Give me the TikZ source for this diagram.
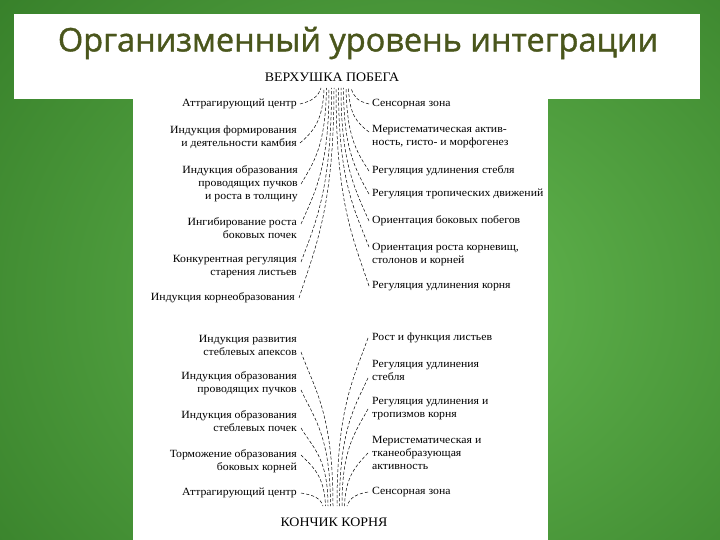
\documentclass[tikz,border=0pt]{standalone}
\usepackage{fontspec}
\setmainfont{Liberation Serif}[FakeStretch=1.07]
\newfontfamily\titlefont{Open Sans}[FakeBold=1.2]
\definecolor{bgin}{RGB}{100,184,80}
\definecolor{bgout}{RGB}{20,84,12}
\definecolor{titlecol}{RGB}{74,86,28}
\begin{document}
\begin{tikzpicture}[x=1pt,y=-1pt,
  lab/.style={font=\fontsize{11}{13}\selectfont, inner sep=1pt},
  labl/.style={lab, anchor=east, align=right},
  labr/.style={lab, anchor=west, align=left},
  head/.style={font=\fontsize{13}{15}\selectfont, inner sep=1pt},
  titlestyle/.style={font=\titlefont\fontsize{32.5}{40}\selectfont, text=titlecol, inner sep=0pt},
  conn/.style={draw=black, line width=0.5pt, dash pattern=on 3.2pt off 2pt}]
\useasboundingbox (0,0) rectangle (720,540);
\begin{scope}
\clip (0,0) rectangle (720,540);
\shade[inner color=bgin, outer color=bgout] (-580,-540) rectangle (1420,1140);
\end{scope}
\fill[white] (14,14) rectangle (700,99);
\fill[white] (133,98) rectangle (548,540);
\node[titlestyle] (title) at (358,43) {Организменный уровень интеграции};

\node[head] (top) at (332,77) {ВЕРХУШКА ПОБЕГА};
\node[head] (bot) at (334,522) {КОНЧИК КОРНЯ};

% top left
\node[labl] (la1) at (298,104) {Аттрагирующий центр};
\node[labl] (la2) at (298,137) {Индукция формирования\\и деятельности камбия};
\node[labl] (la3) at (299,184) {Индукция образования\\проводящих пучков\\и роста в толщину};
\node[labl] (la4) at (298,228) {Ингибирование роста\\боковых почек};
\node[labl] (la5) at (298,267) {Конкурентная регуляция\\старения листьев};
\node[labl] (la6) at (296,298) {Индукция корнеобразования};
% top right
\node[labr] (ra1) at (371,104) {Сенсорная зона};
\node[labr] (ra2) at (371,137) {Меристематическая актив-\\ность, гисто- и морфогенез};
\node[labr] (ra3) at (371,171) {Регуляция удлинения стебля};
\node[labr] (ra4) at (371,194) {Регуляция тропических движений};
\node[labr] (ra5) at (371,221) {Ориентация боковых побегов};
\node[labr] (ra6) at (371,255) {Ориентация роста корневищ,\\столонов и корней};
\node[labr] (ra7) at (371,286) {Регуляция удлинения корня};
% bottom left
\node[labl] (lb1) at (298,345) {Индукция развития\\стеблевых апексов};
\node[labl] (lb2) at (298,383) {Индукция образования\\проводящих пучков};
\node[labl] (lb3) at (298,421) {Индукция образования\\стеблевых почек};
\node[labl] (lb4) at (298,461) {Торможение образования\\боковых корней};
\node[labl] (lb5) at (298,493) {Аттрагирующий центр};
% bottom right
\node[labr] (rb1) at (371,338) {Рост и функция листьев};
\node[labr] (rb2) at (371,370) {Регуляция удлинения\\стебля};
\node[labr] (rb3) at (371,409) {Регуляция удлинения и\\тропизмов корня};
\node[labr] (rb4) at (371,453) {Меристематическая и\\тканеобразующая\\активность};
\node[labr] (rb5) at (371,492) {Сенсорная зона};

% apex points
\foreach \i/\x in {1/321,2/324,3/326.5,4/329,5/331.5,6/334}
  \coordinate (ta\i) at (\x,88);
\foreach \i/\x in {1/351,2/348.5,3/346,4/343.5,5/341,6/338.5,7/336}
  \coordinate (tb\i) at (\x,88);
\foreach \i/\x in {1/333,2/330.5,3/328,4/325.5,5/323}
  \coordinate (ba\i) at (\x,506);
\foreach \i/\x in {1/337,2/339.5,3/342,4/344.5,5/347}
  \coordinate (bb\i) at (\x,506);

% top left connectors
\draw[conn] ([xshift=2pt]la1.east) .. controls +(12,-3) and +(-3,9) .. (ta1);
\draw[conn] ([xshift=2pt,yshift=-6pt]la2.east) .. controls +(14,-12) and +(-1,32) .. (ta2);
\draw[conn] ([xshift=2pt]la3.east) .. controls +(13,-22) and +(-1,58) .. (ta3);
\draw[conn] ([xshift=3pt,yshift=4pt]la4.east) .. controls +(14,-32) and +(0,80) .. (ta4);
\draw[conn] ([xshift=3pt,yshift=5pt]la5.east) .. controls +(15,-40) and +(0,100) .. (ta5);
\draw[conn] ([xshift=3pt]la6.east) .. controls +(16,-50) and +(0,120) .. (ta6);
% top right connectors
\draw[conn] ([xshift=-2pt]ra1.west) .. controls +(-12,-3) and +(3,9) .. (tb1);
\draw[conn] ([xshift=-2pt,yshift=5pt]ra2.west) .. controls +(-13,-10) and +(1,26) .. (tb2);
\draw[conn] ([xshift=-2pt]ra3.west) .. controls +(-13,-20) and +(1,48) .. (tb3);
\draw[conn] ([xshift=-2pt]ra4.west) .. controls +(-14,-25) and +(0,60) .. (tb4);
\draw[conn] ([xshift=-2pt]ra5.west) .. controls +(-14,-32) and +(0,76) .. (tb5);
\draw[conn] ([xshift=-2pt,yshift=8pt]ra6.west) .. controls +(-15,-38) and +(0,92) .. (tb6);
\draw[conn] ([xshift=-2pt]ra7.west) .. controls +(-16,-48) and +(0,115) .. (tb7);
% bottom left connectors
\draw[conn] ([xshift=3pt,yshift=-7pt]lb1.east) .. controls +(14,38) and +(0,-92) .. (ba1);
\draw[conn] ([xshift=3pt,yshift=-7pt]lb2.east) .. controls +(13,28) and +(0,-70) .. (ba2);
\draw[conn] ([xshift=3pt,yshift=-7pt]lb3.east) .. controls +(12,20) and +(0,-48) .. (ba3);
\draw[conn] ([xshift=3pt,yshift=6pt]lb4.east) .. controls +(12,12) and +(-1,-30) .. (ba4);
\draw[conn] ([xshift=3pt]lb5.east) .. controls +(11,2) and +(-3,-9) .. (ba5);
% bottom right connectors
\draw[conn] ([xshift=-3pt]rb1.west) .. controls +(-15,42) and +(0,-98) .. (bb1);
\draw[conn] ([xshift=-3pt,yshift=-8pt]rb2.west) .. controls +(-14,30) and +(0,-75) .. (bb2);
\draw[conn] ([xshift=-3pt]rb3.west) .. controls +(-13,24) and +(0,-58) .. (bb3);
\draw[conn] ([xshift=-3pt]rb4.west) .. controls +(-12,13) and +(1,-30) .. (bb4);
\draw[conn] ([xshift=-3pt]rb5.west) .. controls +(-11,2) and +(3,-9) .. (bb5);
\end{tikzpicture}
\end{document}
